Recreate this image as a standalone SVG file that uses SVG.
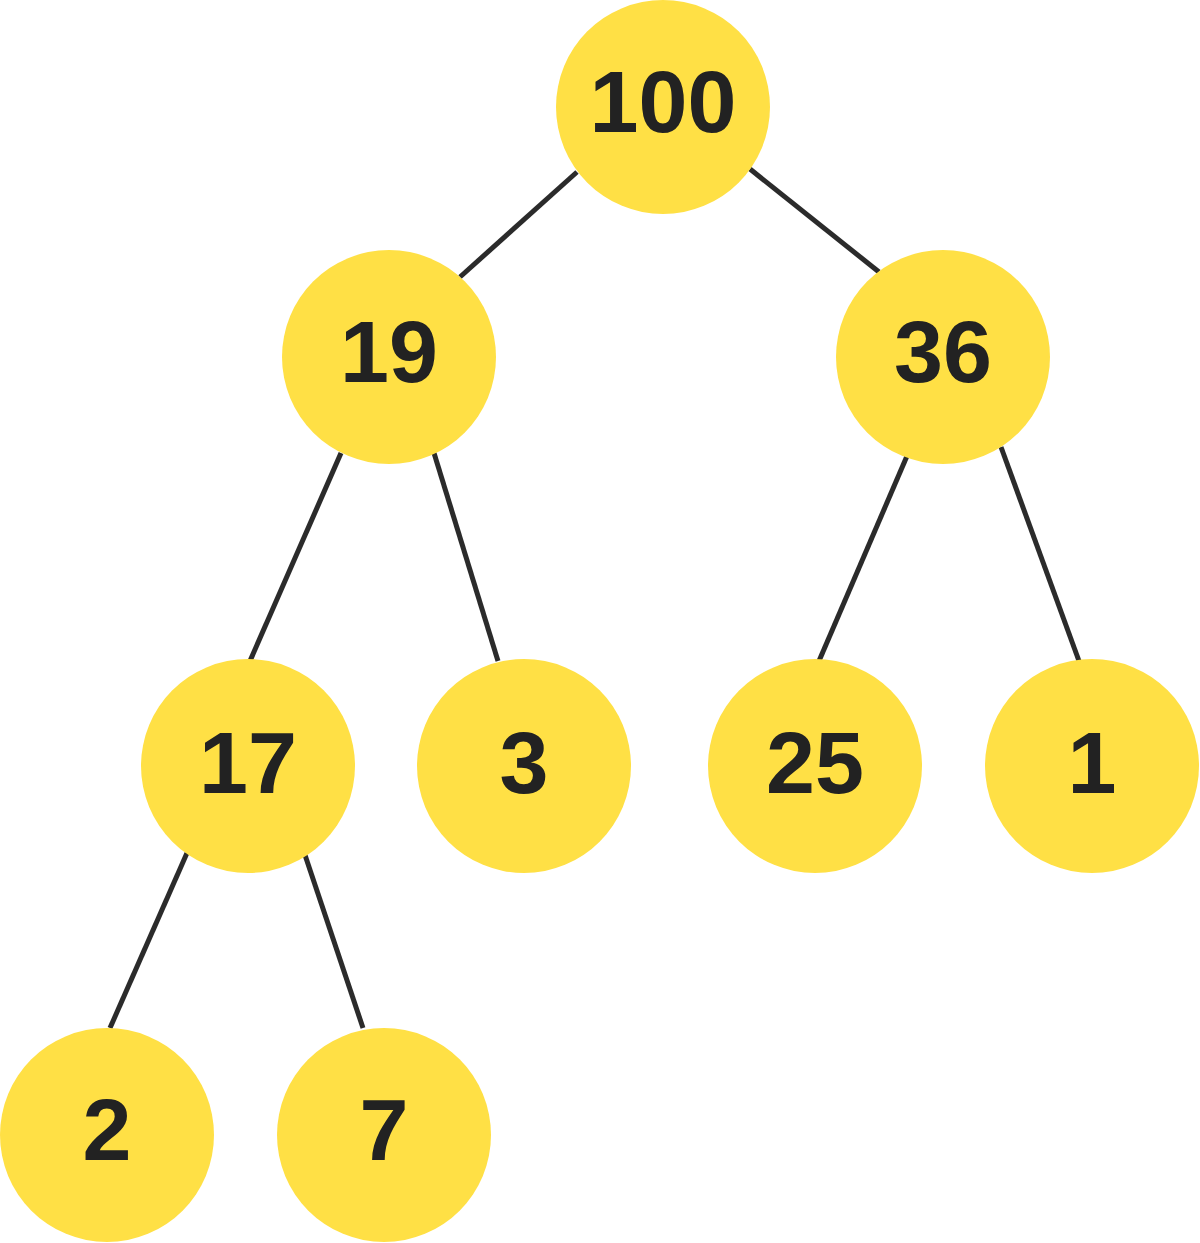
<svg xmlns="http://www.w3.org/2000/svg" width="1200" height="1243" viewBox="0 0 1200 1243">
<style>
.n circle{fill:#FFE045}
.n text{font-family:"Liberation Sans",Arial,sans-serif;font-size:88px;font-weight:bold;fill:#222;text-anchor:middle}
#edges line{stroke:#2b2b2b;stroke-width:5}
</style>
<rect width="1200" height="1243" fill="#fff"/>
<g id="edges">
<line x1="577" y1="172" x2="460" y2="277"/>
<line x1="750" y1="169" x2="879" y2="272"/>
<line x1="341" y1="453" x2="250" y2="661"/>
<line x1="434" y1="453" x2="498" y2="661"/>
<line x1="907" y1="456" x2="819" y2="661"/>
<line x1="1001" y1="447" x2="1079" y2="661"/>
<line x1="187" y1="853" x2="110" y2="1028"/>
<line x1="305" y1="855" x2="363" y2="1028"/>
</g>
<g id="n100" class="n"><circle cx="663" cy="107" r="107"/><text x="663" y="132">100</text></g>
<g id="n19" class="n"><circle cx="389" cy="357" r="107"/><text x="389" y="382">19</text></g>
<g id="n36" class="n"><circle cx="943" cy="357" r="107"/><text x="943" y="382">36</text></g>
<g id="n17" class="n"><circle cx="248" cy="766" r="107"/><text x="248" y="793">17</text></g>
<g id="n3" class="n"><circle cx="524" cy="766" r="107"/><text x="524" y="793">3</text></g>
<g id="n25" class="n"><circle cx="815" cy="766" r="107"/><text x="815" y="793">25</text></g>
<g id="n1" class="n"><circle cx="1092" cy="766" r="107"/><text x="1092" y="793">1</text></g>
<g id="n2" class="n"><circle cx="107" cy="1135" r="107"/><text x="107" y="1160">2</text></g>
<g id="n7" class="n"><circle cx="384" cy="1135" r="107"/><text x="384" y="1160">7</text></g>
</svg>
